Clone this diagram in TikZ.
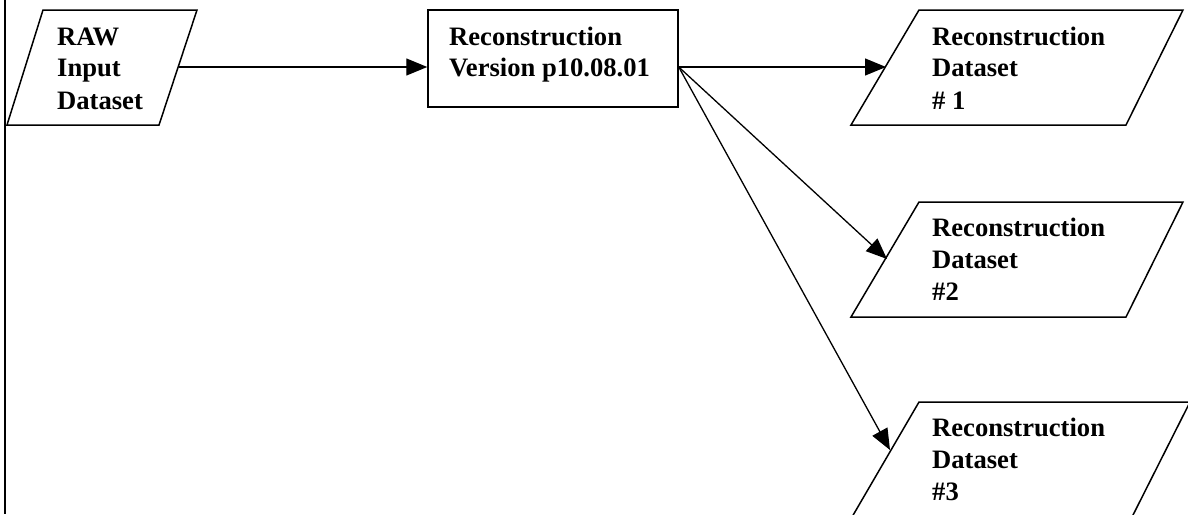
\documentclass[tikz,border=0pt]{standalone}
\usepackage{fontspec}
\setmainfont{Liberation Serif}
\usetikzlibrary{arrows.meta,calc}
\tikzset{
  shapeline/.style={line width=1.5pt, line join=miter},
  conn/.style={line width=1.3pt, -{Triangle[length=21pt,width=17pt]}},
  labeltext/.style={anchor=base west, inner sep=0pt, font=\fontsize{26.6}{32}\selectfont\bfseries},
  procbox/.style={draw, line width=1.5pt, minimum width=250pt, minimum height=97pt, inner sep=0pt}
}
\begin{document}
\begin{tikzpicture}[x=1pt,y=-1pt]
\useasboundingbox (0,0) rectangle (1188,514);
\begin{scope}
\clip (0,0) rectangle (1188,514);
\draw[line width=2pt] (5,0) -- (5,514);
% RAW input
\draw[shapeline] (43,10) -- (197,10) -- (159,125) -- (7,125) -- cycle;
\node[labeltext] (raw) at (57,45) {\vtop{\hbox{RAW}\hbox{Input}\hbox{Dataset}}};
\coordinate (rawout) at (179,67);
% reconstruction box
\node[procbox] (reco) at (553,58.5) {};
\node[labeltext] (recotext) at (449,45) {\vtop{\hbox{Reconstruction}\hbox{Version p10.08.01}}};
\coordinate (recoout) at (reco.east |- rawout);
% datasets
\draw[shapeline] (919,10) -- (1183,10) -- (1126,125) -- (851,125) -- cycle;
\node[labeltext] (ds1) at (932,45) {\vtop{\hbox{Reconstruction}\hbox{Dataset}\hbox{\# 1}}};
\coordinate (in1) at (886,67);
\draw[shapeline] (919,202) -- (1183,202) -- (1126,317) -- (851,317) -- cycle;
\node[labeltext] (ds2) at (932,236) {\vtop{\hbox{Reconstruction}\hbox{Dataset}\hbox{\#2}}};
\coordinate (in2) at (887,259);
\draw[shapeline] (919,402) -- (1190,402) -- (1132,517) -- (852,517) -- cycle;
\node[labeltext] (ds3) at (932,436) {\vtop{\hbox{Reconstruction}\hbox{Dataset}\hbox{\#3}}};
\coordinate (in3) at (890,450);
% connectors
\draw[conn] (rawout) -- (rawout -| reco.west);
\draw[conn] (recoout) -- (in1);
\draw[conn] (recoout) -- (in2);
\draw[conn] (recoout) -- (in3);
\end{scope}
\end{tikzpicture}
\end{document}
